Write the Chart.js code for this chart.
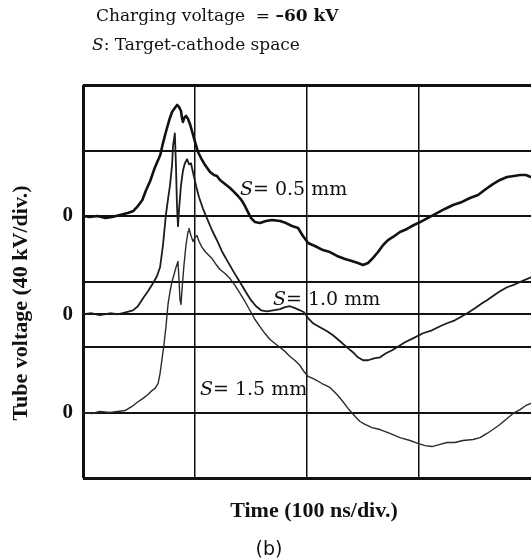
<!DOCTYPE html>
<html>
<head>
<meta charset="utf-8">
<script src="https://cdn.jsdelivr.net/npm/chart.js@4/dist/chart.umd.min.js"></script>
<style>
  body { margin: 0; background: #fff; }
  canvas { display: block; }
</style>
</head>
<body>
<canvas id="chartCanvas" width="531" height="559"></canvas>
<script>
// time in ns, voltage in kV measured from each trace's own zero line
var timeS05 = [0, 6, 13, 20, 26, 33, 40, 45, 49, 53, 56, 60, 64, 69, 71, 74, 77, 79.5, 82, 84, 85.7, 87.5, 88.4, 89.3, 90.2, 92, 93.8, 95.5, 97.3, 100, 102.7, 105.4, 109, 113.4, 117, 119.6, 122.3, 126.8, 131.3, 134.8, 138.4, 142, 144.6, 147.3, 150, 153.6, 158, 163.4, 168.8, 176, 181.3, 186.6, 192, 196.4, 201, 207, 214.3, 220.5, 226.8, 234, 240, 245.5, 250, 254.5, 259, 263.4, 268, 272.3, 276.8, 283, 289.3, 295.5, 301, 308, 316, 323, 330.4, 338.4, 345.5, 352.7, 359.8, 366, 372.3, 378.6, 384.8, 390.2, 395.5, 400]
var voltS05 = [0, -0.6, 0, -1.2, -0.6, 0.6, 1.8, 3.1, 6.1, 9.8, 15.3, 21.4, 29.3, 37.3, 43.4, 51.3, 58.6, 63.5, 66, 67.8, 66.6, 64.1, 59.8, 57.4, 59.8, 61.1, 59.2, 56.2, 51.9, 45.2, 39.1, 35.4, 31.1, 26.9, 25, 24.4, 22, 19.5, 17.1, 14.7, 12.2, 9.2, 6.1, 2.4, -1.2, -3.7, -4.3, -3.1, -2.4, -3.1, -4.3, -6.1, -7.3, -12.2, -16.5, -18.3, -20.8, -22, -24.4, -26.3, -27.5, -28.7, -29.9, -28.7, -25.6, -22, -17.7, -14.7, -12.8, -9.8, -7.9, -5.5, -3.7, -1.2, 1.8, 4.3, 6.7, 8.6, 11, 12.8, 16.5, 19.5, 22, 23.8, 24.4, 25, 25, 23.8]

var timeS10 = [0, 8, 15, 24, 31, 38, 44.6, 49, 53.6, 58, 62.5, 66, 68.8, 71.4, 74, 76, 77.7, 79.5, 80.4, 82, 83, 83.9, 84.8, 85.7, 87.5, 89.3, 91, 92.9, 94.6, 96.4, 98.2, 101, 103.6, 107, 110.7, 115.2, 119.6, 124, 129.5, 134.8, 140.2, 145.5, 150, 154.5, 159, 164.3, 169.6, 176, 180.4, 184.8, 189.3, 193.8, 197.3, 201, 205.4, 211.6, 218, 223.2, 229.5, 235.7, 241, 245.5, 250, 254.5, 259.8, 265.2, 270.5, 276, 280.4, 287.5, 294.6, 303.6, 311.6, 318.8, 325, 332, 338.4, 343, 350, 356.3, 360.7, 367, 372.3, 378.6, 385.7, 392, 400]
var voltS10 = [0, 0.6, -0.6, 0.6, 0, 1.2, 2.4, 4.9, 9.8, 14, 18.9, 23.2, 28.7, 42.1, 60.5, 70.8, 78.8, 91, 103.2, 110.5, 91, 66.6, 53.7, 63.5, 78.8, 87.9, 92.2, 94.7, 91.6, 92.2, 86.7, 78.2, 71.5, 64.7, 58.6, 51.3, 45.2, 38.5, 31.8, 25.6, 19.5, 13.4, 8.6, 4.9, 2.4, 1.8, 2.4, 3.1, 4.3, 4.9, 3.7, 2.4, 1.2, -2.4, -5.5, -7.9, -10.4, -12.8, -16.5, -20.2, -23.2, -26.3, -28.1, -28.1, -26.9, -26.3, -23.8, -22, -20.2, -17.1, -14.7, -11.6, -9.8, -7.3, -5.5, -3.7, -1.2, 0.6, 3.7, 6.7, 8.6, 11.6, 14, 16.5, 18.3, 20.2, 22.6]

var timeS15 = [0, 8, 15, 24, 31, 37.5, 43.8, 48.2, 53.6, 58, 61.6, 64.3, 67, 68.8, 70.5, 72.3, 74.1, 75.9, 77.7, 79.5, 81.3, 83, 84.8, 85.7, 86.6, 87.5, 88.4, 90.2, 92, 93.8, 94.6, 96.4, 98.2, 100, 101.8, 103.6, 106.3, 109, 111.6, 115.2, 118.8, 122.3, 126.8, 131.3, 135.7, 140.2, 144.6, 149.1, 153.6, 158, 162.5, 167, 171.4, 176, 180.4, 184.8, 189.3, 193.8, 197.3, 201, 207, 213.4, 220.5, 226.8, 232, 237.5, 243, 247.3, 251.8, 258, 265.2, 274, 283, 292, 299, 305.4, 311.6, 318.8, 325, 332, 339.3, 348.2, 354.5, 360.7, 366, 372.3, 378.6, 384, 390.2, 395.5, 400]
var voltS15 = [0, -0.6, 0.6, 0, 0.6, 1.2, 3.7, 6.1, 8.6, 11, 13.4, 14.7, 17.7, 23.8, 32.4, 41.5, 52.5, 66, 73.9, 80, 84.3, 88.6, 92.2, 81.2, 69, 66, 75.1, 90.4, 102.6, 110.5, 112.4, 108.1, 104.4, 106.9, 108.1, 104.4, 100.8, 98.3, 96.5, 94, 90.4, 87.3, 84.9, 81.8, 77.6, 72.7, 67.8, 62.3, 56.8, 52.5, 48.2, 44.6, 42.1, 39.7, 37.3, 34.2, 31.8, 28.7, 25, 22, 20.2, 17.7, 15.3, 11, 6.7, 1.8, -2.4, -5.5, -7.3, -9.2, -10.4, -12.8, -15.3, -17.1, -18.9, -20.2, -20.8, -19.5, -18.3, -18.3, -17.1, -16.5, -15.3, -12.8, -10.4, -7.3, -3.7, -0.6, 1.8, 4.3, 5.5]

var traceNames = ['S= 0.5 mm', 'S= 1.0 mm', 'S= 1.5 mm']
// zero level of each trace on the screen, in kV (40 kV per division)
var zeroLevels = [160, 100, 40]
var yTicks = [0, 40, 80, 100, 120, 160, 200, 240]

function toPoints(times, volts, zero) {
    var pts = []
    for (var i = 0; i < times.length; i++) {
        pts.push({ x: times[i], y: volts[i] + zero })
    }
    return pts
}

var textPlugin = {
    id: 'texts',
    afterDraw: function (chart) {
        var ctx = chart.ctx
        ctx.save()
        ctx.fillStyle = '#111'
        ctx.textBaseline = 'alphabetic'
        ctx.textAlign = 'left'

        // header
        var x = 96
        ctx.font = '17px "DejaVu Serif"'
        ctx.fillText('Charging voltage  = ', x, 21)
        x += ctx.measureText('Charging voltage  = ').width
        ctx.font = 'bold 17px "DejaVu Serif"'
        ctx.fillText('\u201360 kV', x, 21)

        x = 92
        ctx.font = 'italic 17px "DejaVu Serif"'
        ctx.fillText('S', x, 50)
        x += ctx.measureText('S').width
        ctx.font = '17px "DejaVu Serif"'
        ctx.fillText(': Target-cathode space', x, 50)

        // trace labels
        var labelPos = [[240, 195], [273, 305], [200, 395]]
        for (var i = 0; i < traceNames.length; i++) {
            var lx = labelPos[i][0]
            var ly = labelPos[i][1]
            ctx.font = 'italic 19px "DejaVu Serif"'
            ctx.fillText(traceNames[i].charAt(0), lx, ly)
            lx += ctx.measureText(traceNames[i].charAt(0)).width
            ctx.font = '19px "DejaVu Serif"'
            ctx.fillText(traceNames[i].slice(1), lx, ly)
        }

        // axis titles
        ctx.font = 'bold 22px "Liberation Serif"'
        ctx.textAlign = 'center'
        ctx.fillText('Time (100 ns/div.)', 314, 517)
        ctx.save()
        ctx.translate(27, 303)
        ctx.rotate(-Math.PI / 2)
        ctx.fillText('Tube voltage (40 kV/div.)', 0, 0)
        ctx.restore()

        ctx.font = '19px "DejaVu Sans"'
        ctx.fillText('(b)', 269, 555)
        ctx.restore()
    }
}

var ctx = document.getElementById('chartCanvas')
var chart = new Chart(ctx, {
    type: 'line',
    data: {
        datasets: [
            { label: traceNames[0], data: toPoints(timeS05, voltS05, zeroLevels[0]), borderColor: '#111', borderWidth: 2.6 },
            { label: traceNames[1], data: toPoints(timeS10, voltS10, zeroLevels[1]), borderColor: '#1c1c1c', borderWidth: 1.8 },
            { label: traceNames[2], data: toPoints(timeS15, voltS15, zeroLevels[2]), borderColor: '#2a2a2a', borderWidth: 1.4 }
        ]
    },
    options: {
        responsive: false,
        animation: false,
        devicePixelRatio: 1,
        events: [],
        layout: { padding: { top: 85, bottom: 81, left: 0, right: 0 } },
        elements: {
            point: { radius: 0 },
            line: { tension: 0, borderJoinStyle: 'round', borderCapStyle: 'round' }
        },
        plugins: {
            legend: { display: false },
            tooltip: { enabled: false }
        },
        scales: {
            x: {
                type: 'linear',
                min: 0,
                max: 400,
                ticks: { display: false, stepSize: 100 },
                border: { display: false },
                grid: {
                    drawTicks: false,
                    color: '#111',
                    lineWidth: function (c) {
                        if (c.tick.value === 0) return 3
                        if (c.tick.value === 400) return 0
                        return 1.5
                    }
                },
                afterFit: function (scale) { scale.height = 0 }
            },
            y: {
                type: 'linear',
                min: 0,
                max: 240,
                afterBuildTicks: function (scale) {
                    scale.ticks = yTicks.map(function (v) { return { value: v } })
                },
                ticks: {
                    padding: 10,
                    color: '#111',
                    font: { family: 'Liberation Serif', size: 21, weight: 'bold' },
                    callback: function (v) {
                        return zeroLevels.indexOf(v) >= 0 ? '0' : ''
                    }
                },
                border: { display: false },
                grid: {
                    drawTicks: false,
                    color: '#111',
                    lineWidth: function (c) {
                        if (c.tick.value === 0 || c.tick.value === 240) return 3
                        return 2
                    }
                },
                afterFit: function (scale) { scale.width = 83 }
            }
        }
    },
    plugins: [textPlugin]
})
</script>
</body>
</html>
